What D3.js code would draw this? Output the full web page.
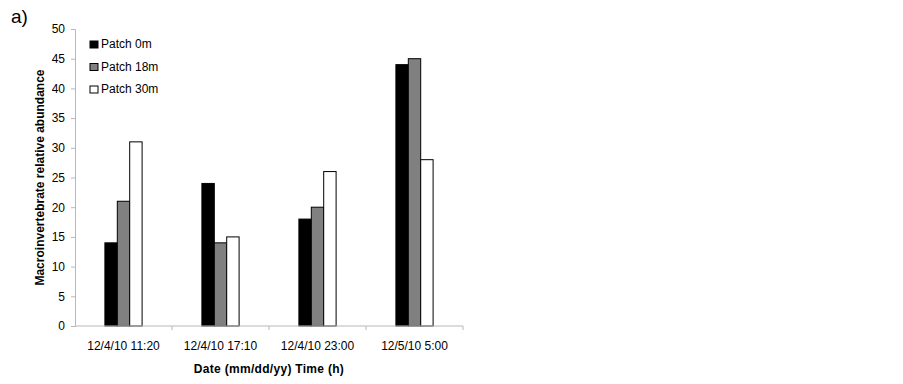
<!DOCTYPE html>
<html>
<head>
<meta charset="utf-8">
<script src="https://cdn.jsdelivr.net/npm/d3@7"></script>
<style>
  body { margin: 0; background: #fff; }
  text { font-family: "Liberation Sans", Arial, sans-serif; }
</style>
</head>
<body>
<div id="chart"></div>
<script>
// categories and series
const dates = ["12/4/10 11:20", "12/4/10 17:10", "12/4/10 23:00", "12/5/10 5:00"];
const patches = ["Patch 0m", "Patch 18m", "Patch 30m"];
const patch0 = [14, 24, 18, 44];
const patch18 = [21, 14, 20, 45];
const patch30 = [31, 15, 26, 28];
const yTicks = [0, 5, 10, 15, 20, 25, 30, 35, 40, 45, 50];

const seriesValues = [patch0, patch18, patch30];
const fills = ["#000000", "#808080", "#ffffff"];

const margin = { top: 29, left: 75 };
const width = 388, height = 297;

const svg = d3.select("#chart").append("svg")
    .attr("width", 903)
    .attr("height", 384);

svg.append("text")
    .attr("x", 11)
    .attr("y", 23)
    .style("font-size", "19px")
    .text("a)");

const g = svg.append("g")
    .attr("transform", `translate(${margin.left},${margin.top})`);

const x = d3.scaleBand().domain(dates).range([0, width]).paddingInner(0).paddingOuter(0);
const y = d3.scaleLinear().domain([0, 50]).range([height, 0]);

// sub band for the three bars, bars ~12.4px wide centred in band
const barW = 12.4;
const x1 = d3.scaleBand().domain(patches).range([x.bandwidth() / 2 - 1.5 * barW, x.bandwidth() / 2 + 1.5 * barW]);

const groups = g.selectAll(".grp")
    .data(dates)
    .enter().append("g")
    .attr("transform", d => `translate(${x(d)},0)`);

groups.selectAll("rect")
    .data((d, i) => patches.map((p, j) => ({ p, v: seriesValues[j][i], j })))
    .enter().append("rect")
    .attr("x", d => x1(d.p))
    .attr("y", d => y(d.v))
    .attr("width", x1.bandwidth())
    .attr("height", d => height - y(d.v))
    .attr("fill", d => fills[d.j])
    .attr("stroke", "#000")
    .attr("stroke-width", 1);

// y axis
const yAxis = g.append("g")
    .call(d3.axisLeft(y).tickValues(yTicks).tickSize(4).tickPadding(6));
yAxis.select(".domain").attr("stroke", "#b8b8b8");
yAxis.selectAll(".tick line").attr("stroke", "#b8b8b8");
yAxis.selectAll(".tick text").style("font-size", "12px").attr("fill", "#000")
    .style("font-family", "'Liberation Sans', Arial, sans-serif");

// x axis: ticks at band boundaries
const xAxisG = g.append("g").attr("transform", `translate(0,${height})`);
xAxisG.append("line")
    .attr("x1", 0).attr("x2", width)
    .attr("stroke", "#b8b8b8");
xAxisG.selectAll(".bt")
    .data(dates.slice(1).concat(["end"]))
    .enter().append("line")
    .attr("x1", (d, i) => x.step() * (i + 1))
    .attr("x2", (d, i) => x.step() * (i + 1))
    .attr("y1", 0).attr("y2", 4)
    .attr("stroke", "#b8b8b8");
xAxisG.selectAll(".lbl")
    .data(dates)
    .enter().append("text")
    .attr("x", d => x(d) + x.bandwidth() / 2)
    .attr("y", 24)
    .attr("text-anchor", "middle")
    .style("font-size", "12px")
    .text(d => d);

// axis titles
svg.append("text")
    .attr("transform", `translate(44,${margin.top + height / 2}) rotate(-90)`)
    .attr("text-anchor", "middle")
    .style("font-size", "12px")
    .style("font-weight", "bold")
    .text("Macroinvertebrate relative abundance");

svg.append("text")
    .attr("x", margin.left + width / 2)
    .attr("y", 373)
    .attr("text-anchor", "middle")
    .style("font-size", "12px")
    .style("font-weight", "bold")
    .style("letter-spacing", "0.3px")
    .text("Date (mm/dd/yy) Time (h)");

// legend
const legend = svg.append("g").attr("transform", "translate(90,40)");
const li = legend.selectAll(".li")
    .data(patches)
    .enter().append("g")
    .attr("transform", (d, i) => `translate(0,${i * 22.5})`);
li.append("rect")
    .attr("width", 8).attr("height", 7)
    .attr("y", 1)
    .attr("fill", (d, i) => fills[i])
    .attr("stroke", "#000");
li.append("text")
    .attr("x", 11)
    .attr("y", 8)
    .style("font-size", "12px")
    .text(d => d);
</script>
</body>
</html>
